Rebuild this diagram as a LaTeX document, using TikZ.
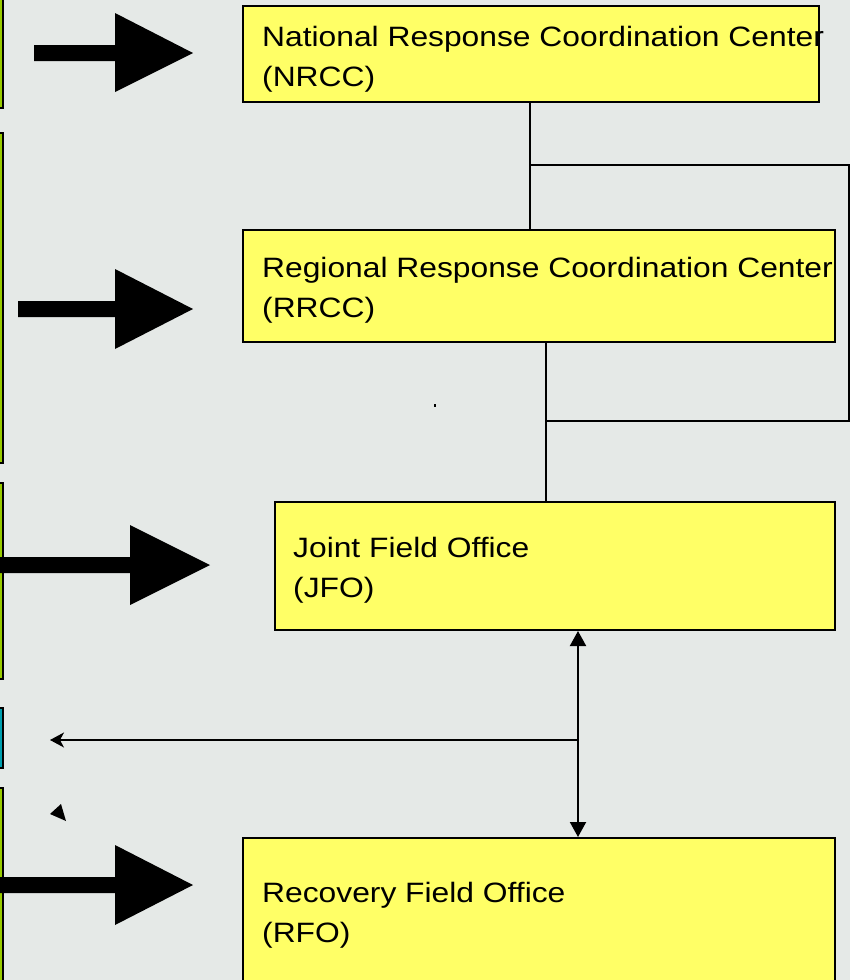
\documentclass[tikz,border=0pt]{standalone}
\usepackage{fontspec}
\setmainfont[FakeStretch=1.135]{Liberation Sans}
\usetikzlibrary{arrows.meta}
\definecolor{bg}{RGB}{229,233,231}
\definecolor{boxyellow}{RGB}{255,255,102}
\definecolor{limegreen}{RGB}{153,204,0}
\definecolor{tealbox}{RGB}{0,160,176}
\begin{document}
\begin{tikzpicture}[x=1pt,y=-1pt,
  ybox/.style={draw=black,line width=2pt,fill=boxyellow,rectangle,inner sep=0pt,anchor=north west},
  txt/.style={anchor=base west,inner sep=0pt,font=\fontsize{28}{34}\selectfont},
  conn/.style={line width=2pt},
  blockarr/.style={fill=black},
  sliver/.style={draw=black,line width=1.5pt}]
\useasboundingbox (0,0) rectangle (850,980);
\fill[bg] (0,0) rectangle (850,980);
\begin{scope}
\clip (0,0) rectangle (850,980);
% left slivers of boxes cut off by the frame
\draw[sliver,fill=limegreen] (-20,-10) rectangle (2.8,108);
\draw[sliver,fill=limegreen] (-20,133) rectangle (2.8,463);
\draw[sliver,fill=limegreen] (-20,483) rectangle (2.8,679);
\draw[sliver,fill=tealbox] (-20,708) rectangle (2.8,768);
\draw[sliver,fill=limegreen] (-20,788) rectangle (2.8,1000);
% block arrows
\fill[blockarr] (34,45) -- (115,45) -- (115,13) -- (193,53) -- (115,92) -- (115,61) -- (34,61) -- cycle;
\fill[blockarr] (18,301) -- (115,301) -- (115,269) -- (193,309) -- (115,349) -- (115,317) -- (18,317) -- cycle;
\fill[blockarr] (-2,557) -- (130,557) -- (130,525) -- (210,565) -- (130,605) -- (130,573) -- (-2,573) -- cycle;
\fill[blockarr] (-2,877) -- (115,877) -- (115,845) -- (193,885) -- (115,925) -- (115,893) -- (-2,893) -- cycle;
% boxes
\node[ybox,minimum width=576pt,minimum height=96pt] (nrcc) at (242,5) {};
\node[ybox,minimum width=592pt,minimum height=112pt] (rrcc) at (242,229) {};
\node[ybox,minimum width=560pt,minimum height=128pt] (jfo) at (274,501) {};
\node[ybox,minimum width=592pt,minimum height=180pt] (rfo) at (242,837) {};
% texts
\node[txt] (nrcc1) at (262,46) {National Response Coordination Center};
\node[txt] (nrcc2) at (262,86) {(NRCC)};
\node[txt] (rrcc1) at (262,277) {Regional Response Coordination Center};
\node[txt] (rrcc2) at (262,317) {(RRCC)};
\node[txt] (jfo1) at (293,557) {Joint Field Office};
\node[txt] (jfo2) at (293,597) {(JFO)};
\node[txt] (rfo1) at (262,902) {Recovery Field Office};
\node[txt] (rfo2) at (262,942) {(RFO)};
% connectors
\coordinate (xa) at (530,0);
\coordinate (xb) at (546,0);
\coordinate (xc) at (578,0);
\draw[conn] (nrcc.south -| xa) -- (rrcc.north -| xa);
\coordinate (br1) at (530,165);
\coordinate (br2) at (849,421);
\coordinate (br3) at (546,421);
\draw[conn] (br1) -| (br2) -- (br3);
\draw[conn] (rrcc.south -| xb) -- (jfo.north -| xb);
\draw[conn,{Triangle[width=16pt,length=15pt]}-{Triangle[width=16pt,length=15pt]}] (jfo.south -| xc) -- (rfo.north -| xc);
\coordinate (jn) at (578,740);
\coordinate (tl) at (50,740);
\draw[line width=1.3pt,-{Stealth[length=14pt,width=15pt,inset=4pt]}] (jn) -- (tl);
% stray marks
\fill (50,814) -- (61,804) -- (66,821) -- cycle;
\fill (433.5,403.5) rectangle (435.5,406.5);
\end{scope}
\end{tikzpicture}
\end{document}
